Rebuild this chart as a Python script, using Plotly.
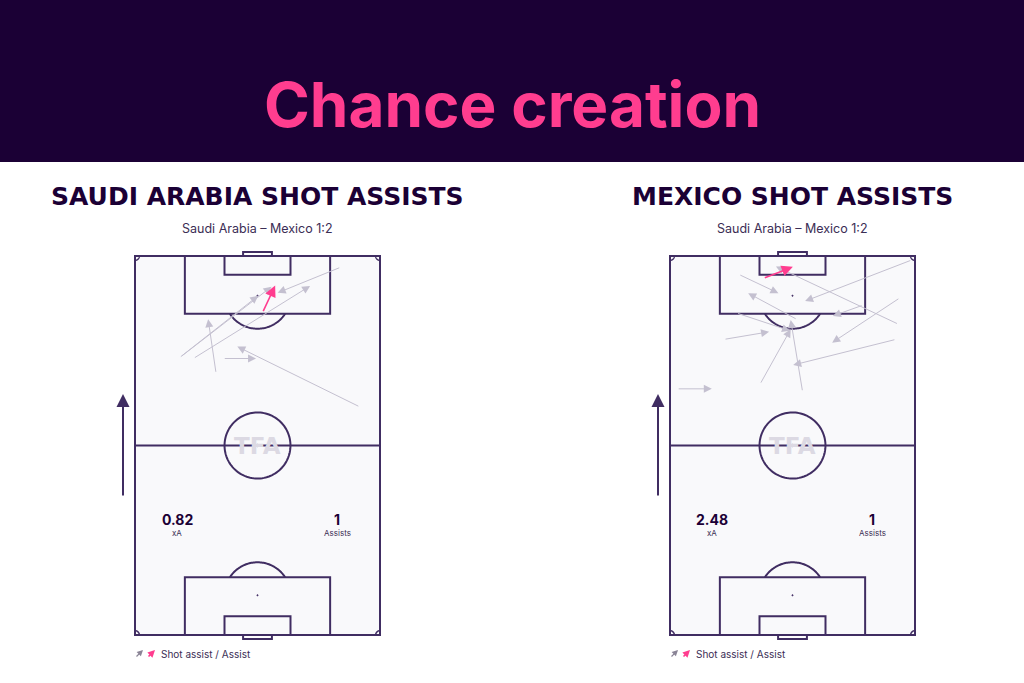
import numpy as np
import plotly.graph_objects as go

# ---------------- data ----------------
MAIN_TITLE = "Chance creation"
team_titles = ["SAUDI ARABIA SHOT ASSISTS", "MEXICO SHOT ASSISTS"]
match_label = "Saudi Arabia – Mexico 1:2"
xa_values = ["0.82", "2.48"]
assist_values = ["1", "1"]
legend_label = "Shot assist / Assist"

# Saudi Arabia shot assists (metres, pitch 68 x 105, attacking upwards)
sa_x0 = [12.3, 12.6, 16.2, 57.1, 22.5, 24.5, 62.4]
sa_y0 = [76.8, 77.0, 76.6, 101.9, 72.5, 76.6, 63.2]
sa_x1 = [34.2, 37.9, 48.6, 39.6, 20.3, 33.6, 28.4]
sa_y1 = [94.0, 96.5, 96.7, 94.8, 87.5, 76.6, 79.9]
# Saudi Arabia assists
sa_ast_x0 = [35.4]
sa_ast_y0 = [89.3]
sa_ast_x1 = [38.9]
sa_ast_y1 = [96.8]

# Mexico shot assists
mx_x0 = [19.1, 35.3, 67.1, 63.4, 53.6, 63.8, 62.7, 15.0, 25.0, 36.8, 2.0, 18.5]
mx_y0 = [99.9, 87.4, 103.9, 86.1, 91.4, 93.4, 81.9, 81.9, 69.5, 67.4, 68.2, 89.2]
mx_x1 = [30.1, 21.7, 37.5, 29.4, 45.2, 45.0, 34.2, 27.5, 33.5, 33.5, 11.6, 33.3]
mx_y1 = [94.7, 94.7, 92.5, 102.1, 88.4, 81.0, 74.8, 84.0, 84.7, 87.3, 68.2, 84.3]
# Mexico assists
mx_ast_x0 = [25.9]
mx_ast_y0 = [98.8]
mx_ast_x1 = [34.1]
mx_ast_y1 = [102.0]

# ---------------- style ----------------
W, H = 1024, 683
BG_DARK = "#1b0035"
PINK = "#ff3d8f"
LINE = "#402d62"
TEXT = "#1b0035"
GREY_ARROW = "#c4c0d0"
PITCH_FILL = "#f9f9fb"

PL, PWID = 105.0, 68.0
SX = 245.0 / PWID   # px per metre across
SY = 379.0 / PL     # px per metre along
PAD = 3.0
pitch_left_px = [135.0, 670.0]
pitch_top_px = 256.0

fig = go.Figure()

def px_to_paper_x(px):
    return px / W

def px_to_paper_y(py):
    return 1 - py / H

axis_names = [("x", "y"), ("x2", "y2")]
for i, (xa, ya) in enumerate(axis_names):
    lx = pitch_left_px[i] - PAD * SX
    rx = pitch_left_px[i] + (PWID + PAD) * SX
    ty = pitch_top_px - PAD * SY
    by = pitch_top_px + (PL + PAD) * SY
    xkey = "xaxis" if i == 0 else "xaxis2"
    ykey = "yaxis" if i == 0 else "yaxis2"
    fig.update_layout(**{
        xkey: dict(domain=[px_to_paper_x(lx), px_to_paper_x(rx)], range=[-PAD, PWID + PAD],
                   visible=False, fixedrange=True, anchor=ya),
        ykey: dict(domain=[px_to_paper_y(by), px_to_paper_y(ty)], range=[-PAD, PL + PAD],
                   visible=False, fixedrange=True, anchor=xa),
    })
    # invisible trace so the axes exist
    fig.add_trace(go.Scatter(x=[0], y=[0], mode="markers", marker=dict(opacity=0),
                             hoverinfo="skip", showlegend=False, xaxis=xa, yaxis=ya))

shapes = []
annotations = []

# title bar
shapes.append(dict(type="rect", xref="paper", yref="paper", x0=0, x1=1,
                   y0=px_to_paper_y(162), y1=1, fillcolor=BG_DARK, line_width=0, layer="below"))
annotations.append(dict(text=MAIN_TITLE, xref="paper", yref="paper", x=0.5, y=px_to_paper_y(104),
                        showarrow=False, xanchor="center", yanchor="middle",
                        font=dict(family="Inter", size=62, color=PINK, weight=700)))


def arc_path(cx, cy, r, a0, a1, n=60):
    t = np.linspace(np.radians(a0), np.radians(a1), n)
    xs = cx + r * np.cos(t)
    ys = cy + r * np.sin(t)
    return "M " + " L ".join(f"{x:.3f},{y:.3f}" for x, y in zip(xs, ys))


def pitch_shapes(xr, yr):
    s = []
    ln = dict(color=LINE, width=2)
    common = dict(xref=xr, yref=yr, layer="below")
    # fill + outline
    s.append(dict(type="rect", x0=0, x1=PWID, y0=0, y1=PL, fillcolor=PITCH_FILL, line=ln, **common))
    # halfway line
    s.append(dict(type="line", x0=0, x1=PWID, y0=PL / 2, y1=PL / 2, line=ln, **common))
    # centre circle + spot
    s.append(dict(type="path", path=arc_path(PWID / 2, PL / 2, 9.15, 0, 360, 120), line=ln, **common))
    s.append(dict(type="circle", x0=PWID / 2 - 0.3, x1=PWID / 2 + 0.3, y0=PL / 2 - 0.3, y1=PL / 2 + 0.3,
                  fillcolor=LINE, line=dict(color=LINE, width=1), **common))
    for top in (True, False):
        gy = PL if top else 0.0
        sgn = -1 if top else 1
        # penalty box
        s.append(dict(type="rect", x0=PWID / 2 - 20.16, x1=PWID / 2 + 20.16,
                      y0=gy, y1=gy + sgn * 16.0, line=ln, **common))
        # six yard box
        s.append(dict(type="rect", x0=PWID / 2 - 9.16, x1=PWID / 2 + 9.16,
                      y0=gy, y1=gy + sgn * 5.2, line=ln, **common))
        # goal
        s.append(dict(type="rect", x0=PWID / 2 - 4.0, x1=PWID / 2 + 4.0,
                      y0=gy, y1=gy - sgn * 1.1, line=ln, **common))
        # penalty spot
        sy = gy + sgn * 11.0
        s.append(dict(type="circle", x0=PWID / 2 - 0.2, x1=PWID / 2 + 0.2, y0=sy - 0.2, y1=sy + 0.2,
                      fillcolor=LINE, line=dict(color=LINE, width=0.5), **common))
        # penalty arc (outside the box)
        d = 16.0 - 11.0
        ang = np.degrees(np.arccos(d / 9.15))
        if top:
            s.append(dict(type="path", path=arc_path(PWID / 2, sy, 9.15, 270 - ang, 270 + ang), line=ln, **common))
        else:
            s.append(dict(type="path", path=arc_path(PWID / 2, sy, 9.15, 90 - ang, 90 + ang), line=ln, **common))
    # corner arcs
    for cx, cy, a0 in [(0, 0, 0), (PWID, 0, 90), (PWID, PL, 180), (0, PL, 270)]:
        s.append(dict(type="path", path=arc_path(cx, cy, 1.2, a0, a0 + 90, 20),
                      line=dict(color=LINE, width=1.5), **common))
    return s


def arrows(xr, yr, x0s, y0s, x1s, y1s, color, width, size):
    out = []
    for a, b, c, d in zip(x0s, y0s, x1s, y1s):
        out.append(dict(x=c, y=d, ax=a, ay=b, xref=xr, yref=yr, axref=xr, ayref=yr,
                        text="", showarrow=True, arrowhead=2, arrowsize=size,
                        arrowwidth=width, arrowcolor=color, standoff=0, startstandoff=0))
    return out


team_data = [
    (sa_x0, sa_y0, sa_x1, sa_y1, sa_ast_x0, sa_ast_y0, sa_ast_x1, sa_ast_y1),
    (mx_x0, mx_y0, mx_x1, mx_y1, mx_ast_x0, mx_ast_y0, mx_ast_x1, mx_ast_y1),
]

for i, (xa, ya) in enumerate(axis_names):
    shapes += pitch_shapes(xa, ya)
    left = pitch_left_px[i]
    cx_px = left + PWID / 2 * SX
    # TFA watermark
    annotations.append(dict(text="TFA", x=PWID / 2, y=PL / 2, xref=xa, yref=ya, showarrow=False,
                            font=dict(family="DejaVu Sans", size=23, color="#dcd9e3", weight=700)))
    # headings
    annotations.append(dict(text=team_titles[i], xref="paper", yref="paper",
                            x=px_to_paper_x(cx_px), y=px_to_paper_y(196), showarrow=False,
                            xanchor="center", yanchor="middle",
                            font=dict(family="DejaVu Sans", size=25, color=TEXT, weight=700)))
    annotations.append(dict(text=match_label, xref="paper", yref="paper",
                            x=px_to_paper_x(cx_px), y=px_to_paper_y(228), showarrow=False,
                            xanchor="center", yanchor="middle",
                            font=dict(family="Inter", size=12.5, color="#3b2e55")))
    # stats
    annotations.append(dict(text=f"<b>{xa_values[i]}</b>", x=11.7, y=32.1, xref=xa, yref=ya, showarrow=False,
                            font=dict(family="Inter", size=14, color=TEXT)))
    annotations.append(dict(text="xA", x=11.7, y=28.3, xref=xa, yref=ya, showarrow=False,
                            font=dict(family="Inter", size=8, color="#3b2e55")))
    annotations.append(dict(text=f"<b>{assist_values[i]}</b>", x=56.1, y=32.1, xref=xa, yref=ya, showarrow=False,
                            font=dict(family="Inter", size=14, color=TEXT)))
    annotations.append(dict(text="Assists", x=56.1, y=28.3, xref=xa, yref=ya, showarrow=False,
                            font=dict(family="Inter", size=8, color="#3b2e55")))
    # direction arrow
    annotations.append(dict(x=px_to_paper_x(left - 12), y=px_to_paper_y(394), xref="paper", yref="paper",
                            ax=0, ay=103, text="", showarrow=True, arrowhead=2, arrowsize=1.3,
                            arrowwidth=2, arrowcolor=LINE, standoff=0))
    # legend
    annotations.append(dict(x=px_to_paper_x(left + 8), y=px_to_paper_y(650), xref="paper", yref="paper",
                            ax=-8, ay=8, text="", showarrow=True, arrowhead=2, arrowsize=1.0,
                            arrowwidth=1.2, arrowcolor="#8a8496", standoff=0))
    annotations.append(dict(x=px_to_paper_x(left + 20), y=px_to_paper_y(650), xref="paper", yref="paper",
                            ax=-8, ay=8, text="", showarrow=True, arrowhead=2, arrowsize=0.9,
                            arrowwidth=1.6, arrowcolor=PINK, standoff=0))
    annotations.append(dict(text=legend_label, xref="paper", yref="paper",
                            x=px_to_paper_x(left + 24), y=px_to_paper_y(654), showarrow=False,
                            xanchor="left", yanchor="middle",
                            font=dict(family="Inter", size=10, color="#3b2e55")))
    # passes
    x0s, y0s, x1s, y1s, ax0, ay0, ax1, ay1 = team_data[i]
    annotations += arrows(xa, ya, x0s, y0s, x1s, y1s, GREY_ARROW, 1, 1.6)
    annotations += arrows(xa, ya, ax0, ay0, ax1, ay1, PINK, 1.6, 1.4)

fig.update_layout(width=W, height=H, margin=dict(l=0, r=0, t=0, b=0),
                  paper_bgcolor="white", plot_bgcolor="white",
                  shapes=shapes, annotations=annotations, showlegend=False)

fig.write_html("out.html", config={"displayModeBar": False},
               post_script="document.body.style.margin='0px';document.body.style.overflow='hidden';")
